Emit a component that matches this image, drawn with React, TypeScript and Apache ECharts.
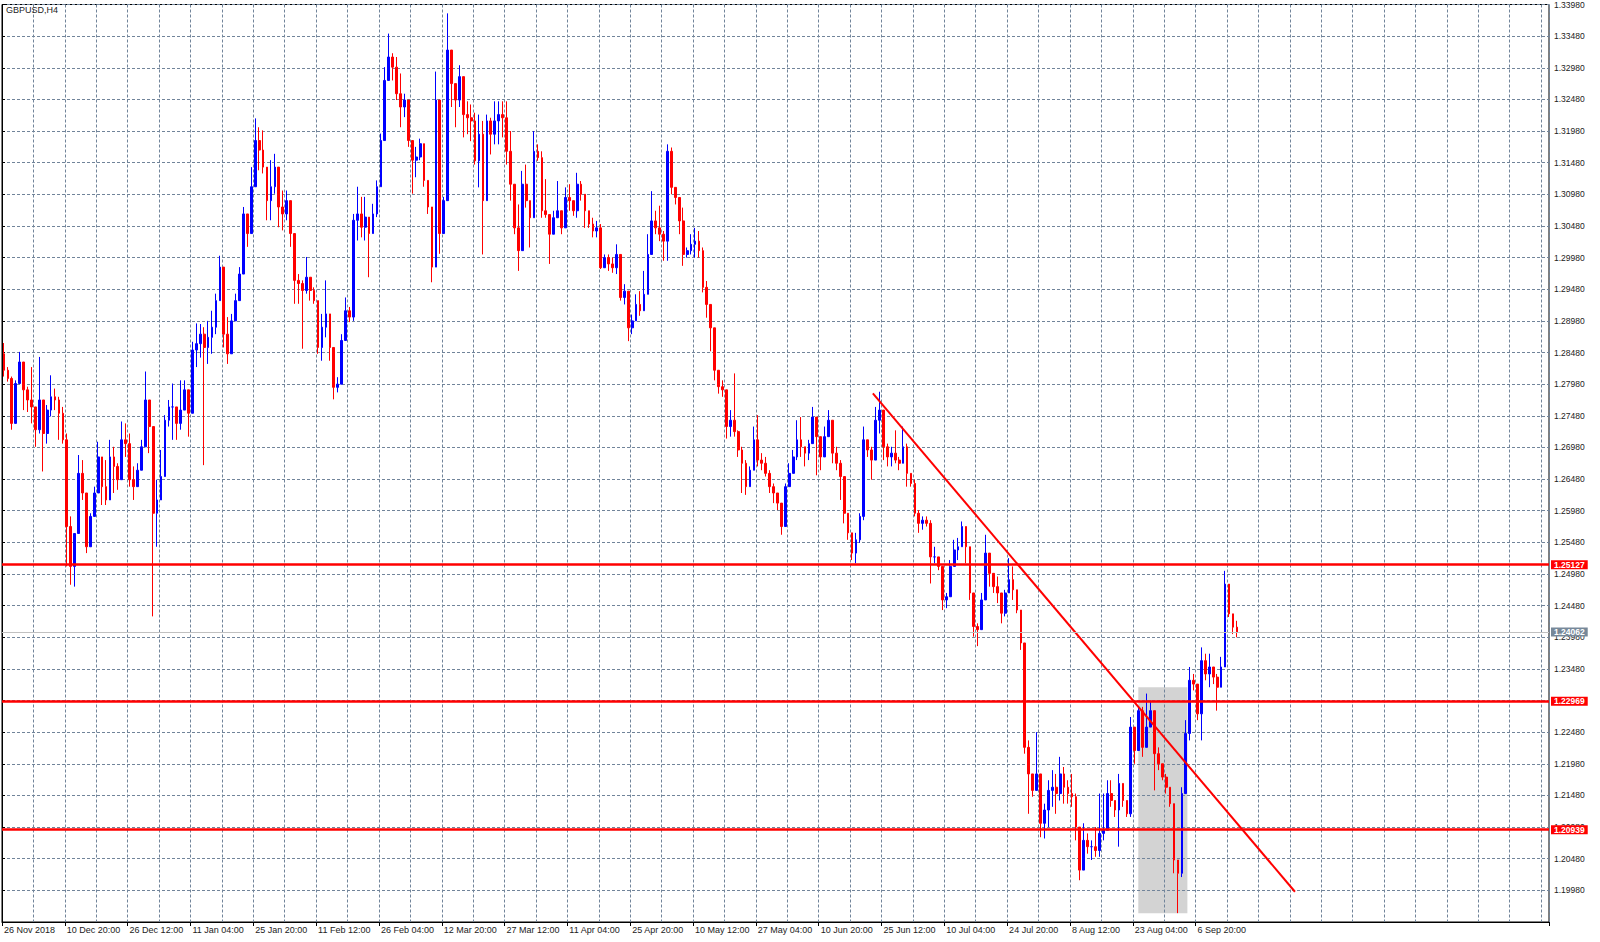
import React, { useEffect, useRef } from "react";
import * as echarts from "echarts";

const SYMBOL = "GBPUSD,H4";

const timeLabels = [
  "26 Nov 2018", "10 Dec 20:00", "26 Dec 12:00", "11 Jan 04:00", "25 Jan 20:00",
  "11 Feb 12:00", "26 Feb 04:00", "12 Mar 20:00", "27 Mar 12:00", "11 Apr 04:00",
  "25 Apr 20:00", "10 May 12:00", "27 May 04:00", "10 Jun 20:00", "25 Jun 12:00",
  "10 Jul 04:00", "24 Jul 20:00", "8 Aug 12:00", "23 Aug 04:00", "6 Sep 20:00",
];

// each candle: [close, high, low]; open = previous close
const firstOpen = 1.2846;

const decToJan = [
  [1.2820, 1.2863, 1.2810], [1.2807, 1.2825, 1.2802], [1.2736, 1.2810, 1.2726], [1.2799, 1.2804, 1.2736],
  [1.2833, 1.2849, 1.2799], [1.2789, 1.2825, 1.2757], [1.2773, 1.2794, 1.2754], [1.2762, 1.2825, 1.2736],
  [1.2726, 1.2757, 1.2699], [1.2773, 1.2841, 1.2720], [1.2720, 1.2773, 1.2660], [1.2757, 1.2765, 1.2704],
  [1.2778, 1.2812, 1.2747], [1.2773, 1.2791, 1.2757], [1.2752, 1.2778, 1.2710], [1.2710, 1.2762, 1.2704],
  [1.2573, 1.2720, 1.2510], [1.2510, 1.2589, 1.2481], [1.2562, 1.2562, 1.2478], [1.2657, 1.2686, 1.2594],
  [1.2626, 1.2678, 1.2615], [1.2541, 1.2615, 1.2531], [1.2589, 1.2594, 1.2562], [1.2626, 1.2636, 1.2594],
  [1.2683, 1.2707, 1.2626], [1.2636, 1.2668, 1.2607], [1.2615, 1.2678, 1.2607], [1.2683, 1.2710, 1.2615],
  [1.2668, 1.2699, 1.2626], [1.2647, 1.2673, 1.2631], [1.2710, 1.2739, 1.2689], [1.2704, 1.2736, 1.2683],
  [1.2647, 1.2720, 1.2636], [1.2636, 1.2668, 1.2615], [1.2662, 1.2673, 1.2636], [1.2699, 1.2710, 1.2673],
  [1.2773, 1.2818, 1.2720], [1.2731, 1.2773, 1.2689], [1.2594, 1.2631, 1.2431], [1.2615, 1.2647, 1.2541],
  [1.2652, 1.2694, 1.2615], [1.2741, 1.2749, 1.2710], [1.2762, 1.2773, 1.2731], [1.2762, 1.2799, 1.2710],
  [1.2736, 1.2752, 1.2710], [1.2757, 1.2804, 1.2726], [1.2789, 1.2804, 1.2757], [1.2752, 1.2773, 1.2715],
  [1.2852, 1.2865, 1.2757], [1.2862, 1.2894, 1.2825],
];

const janToMar = [
  [1.2877, 1.2893, 1.2840], [1.2856, 1.2888, 1.2670], [1.2872, 1.2898, 1.2830], [1.2888, 1.2914, 1.2846],
  [1.2930, 1.2941, 1.2877], [1.2983, 1.3001, 1.2930], [1.2877, 1.2983, 1.2856], [1.2846, 1.2904, 1.2830],
  [1.2898, 1.2909, 1.2877], [1.2930, 1.2941, 1.2909], [1.2972, 1.2983, 1.2941], [1.3067, 1.3078, 1.2999],
  [1.3036, 1.3062, 1.3015], [1.3110, 1.3141, 1.3046], [1.3183, 1.3218, 1.3141], [1.3168, 1.3204, 1.3136],
  [1.3141, 1.3199, 1.3131], [1.3088, 1.3120, 1.3057], [1.3110, 1.3152, 1.3057], [1.3141, 1.3162, 1.3099],
  [1.3078, 1.3120, 1.3046], [1.3067, 1.3104, 1.3041], [1.3088, 1.3104, 1.3057], [1.3036, 1.3051, 1.3015],
  [1.2962, 1.2993, 1.2925], [1.2957, 1.2972, 1.2925], [1.2946, 1.2962, 1.2854], [1.2967, 1.2999, 1.2941],
  [1.2946, 1.2967, 1.2930], [1.2930, 1.2951, 1.2925], [1.2856, 1.2898, 1.2846], [1.2888, 1.2909, 1.2835],
  [1.2909, 1.2962, 1.2872], [1.2856, 1.2877, 1.2835], [1.2793, 1.2825, 1.2774], [1.2798, 1.2809, 1.2785],
  [1.2867, 1.2877, 1.2798], [1.2914, 1.2935, 1.2877], [1.2904, 1.2920, 1.2896], [1.3057, 1.3067, 1.2898],
  [1.3067, 1.3110, 1.3025], [1.3046, 1.3094, 1.3030], [1.3062, 1.3094, 1.3025], [1.3036, 1.3046, 1.2967],
  [1.3067, 1.3083, 1.3041], [1.3110, 1.3120, 1.3062], [1.3183, 1.3194, 1.3110], [1.3278, 1.3299, 1.3236],
  [1.3315, 1.3352, 1.3284], [1.3299, 1.3321, 1.3278], [1.3257, 1.3315, 1.3247], [1.3236, 1.3289, 1.3204],
  [1.3247, 1.3257, 1.3220], [1.3183, 1.3210, 1.3173], [1.3152, 1.3183, 1.3099], [1.3157, 1.3173, 1.3125],
  [1.3178, 1.3186, 1.3152], [1.3120, 1.3173, 1.3110], [1.3078, 1.3107, 1.3067], [1.2983, 1.3067, 1.2959],
  [1.3247, 1.3292, 1.2983], [1.3036, 1.3231, 1.3004], [1.3088, 1.3094, 1.3046], [1.3326, 1.3384, 1.3088],
  [1.3273, 1.3326, 1.3236], [1.3247, 1.3273, 1.3204], [1.3284, 1.3302, 1.3236],
];

const marToMay = [
  [1.3224, 1.3240, 1.3188], [1.3219, 1.3245, 1.3193], [1.3214, 1.3240, 1.3182], [1.3151, 1.3227, 1.3145],
  [1.3193, 1.3224, 1.3109], [1.3088, 1.3214, 1.3003], [1.3214, 1.3224, 1.3098], [1.3193, 1.3219, 1.3161],
  [1.3214, 1.3245, 1.3177], [1.3224, 1.3245, 1.3177], [1.3219, 1.3245, 1.3188], [1.3166, 1.3245, 1.3145],
  [1.3114, 1.3198, 1.3088], [1.3045, 1.3109, 1.3035], [1.3009, 1.3082, 1.2977], [1.3114, 1.3135, 1.3014],
  [1.3088, 1.3145, 1.3077], [1.3061, 1.3088, 1.3014], [1.3166, 1.3198, 1.3066], [1.3156, 1.3177, 1.3151],
  [1.3072, 1.3166, 1.3061], [1.3066, 1.3122, 1.3061], [1.3035, 1.3056, 1.2988], [1.3061, 1.3072, 1.3035],
  [1.3072, 1.3119, 1.3061], [1.3045, 1.3066, 1.3035], [1.3093, 1.3109, 1.3066], [1.3088, 1.3114, 1.3072],
  [1.3072, 1.3082, 1.3064], [1.3114, 1.3132, 1.3061], [1.3098, 1.3119, 1.3088], [1.3072, 1.3093, 1.3045],
  [1.3051, 1.3066, 1.3045], [1.3040, 1.3061, 1.3030], [1.3045, 1.3056, 1.3030], [1.2982, 1.3051, 1.2980],
  [1.2998, 1.3003, 1.2982], [1.2988, 1.3003, 1.2977], [1.2982, 1.2998, 1.2974], [1.3003, 1.3019, 1.2972],
  [1.2935, 1.2961, 1.2930], [1.2945, 1.2956, 1.2924], [1.2887, 1.2919, 1.2866], [1.2898, 1.2908, 1.2877],
  [1.2924, 1.2940, 1.2903], [1.2914, 1.2945, 1.2906], [1.2940, 1.2977, 1.2930], [1.3003, 1.3035, 1.2977],
  [1.3056, 1.3103, 1.3035], [1.3045, 1.3072, 1.3035], [1.3035, 1.3080, 1.3024], [1.3024, 1.3040, 1.2993],
  [1.3166, 1.3177, 1.2993], [1.3109, 1.3172, 1.3098], [1.3093, 1.3109, 1.3082], [1.3056, 1.3080, 1.3035],
  [1.3003, 1.3077, 1.2985], [1.3009, 1.3014, 1.2998], [1.3019, 1.3035, 1.3003], [1.3024, 1.3045, 1.2998],
  [1.3009, 1.3040, 1.2998], [1.2951, 1.3014, 1.2943], [1.2924, 1.2961, 1.2903], [1.2887, 1.2919, 1.2850],
];

const mayToJul = [
  [1.2820, 1.2836, 1.2804], [1.2794, 1.2815, 1.2783], [1.2789, 1.2804, 1.2778], [1.2731, 1.2783, 1.2712],
  [1.2741, 1.2757, 1.2715], [1.2723, 1.2815, 1.2715], [1.2694, 1.2725, 1.2683], [1.2673, 1.2699, 1.2626],
  [1.2636, 1.2678, 1.2623], [1.2662, 1.2668, 1.2652], [1.2710, 1.2731, 1.2678], [1.2678, 1.2749, 1.2668],
  [1.2673, 1.2689, 1.2662], [1.2657, 1.2683, 1.2652], [1.2636, 1.2662, 1.2626], [1.2626, 1.2641, 1.2610],
  [1.2610, 1.2626, 1.2599], [1.2573, 1.2610, 1.2560], [1.2636, 1.2641, 1.2610], [1.2657, 1.2673, 1.2636],
  [1.2683, 1.2694, 1.2662], [1.2710, 1.2741, 1.2678], [1.2699, 1.2746, 1.2683], [1.2689, 1.2699, 1.2668],
  [1.2704, 1.2710, 1.2678], [1.2746, 1.2762, 1.2731], [1.2715, 1.2731, 1.2654], [1.2683, 1.2697, 1.2662],
  [1.2715, 1.2731, 1.2683], [1.2741, 1.2757, 1.2720], [1.2689, 1.2710, 1.2673], [1.2673, 1.2699, 1.2662],
  [1.2652, 1.2678, 1.2615], [1.2594, 1.2615, 1.2578], [1.2563, 1.2594, 1.2552], [1.2531, 1.2563, 1.2520],
  [1.2552, 1.2563, 1.2515], [1.2589, 1.2594, 1.2547], [1.2710, 1.2731, 1.2583], [1.2694, 1.2710, 1.2683],
  [1.2678, 1.2699, 1.2647], [1.2741, 1.2762, 1.2720], [1.2757, 1.2786, 1.2720], [1.2699, 1.2741, 1.2678],
  [1.2683, 1.2704, 1.2668], [1.2689, 1.2699, 1.2668], [1.2678, 1.2725, 1.2673], [1.2673, 1.2683, 1.2662],
  [1.2699, 1.2731, 1.2673], [1.2657, 1.2704, 1.2636], [1.2641, 1.2652, 1.2636], [1.2594, 1.2647, 1.2589],
  [1.2578, 1.2599, 1.2563], [1.2583, 1.2589, 1.2568], [1.2578, 1.2589, 1.2573], [1.2525, 1.2583, 1.2483],
  [1.2525, 1.2541, 1.2515], [1.2510, 1.2525, 1.2504], [1.2457, 1.2510, 1.2441], [1.2462, 1.2468, 1.2444],
  [1.2510, 1.2520, 1.2489], [1.2536, 1.2552, 1.2520], [1.2541, 1.2555, 1.2520], [1.2573, 1.2581, 1.2552],
  [1.2541, 1.2573, 1.2515], [1.2468, 1.2520, 1.2457], [1.2415, 1.2431, 1.2399], [1.2410, 1.2420, 1.2384],
  [1.2457, 1.2468, 1.2415], [1.2531, 1.2560, 1.2499], [1.2499, 1.2520, 1.2478], [1.2478, 1.2499, 1.2468],
  [1.2468, 1.2494, 1.2452], [1.2436, 1.2468, 1.2420], [1.2468, 1.2473, 1.2431], [1.2489, 1.2523, 1.2473],
  [1.2473, 1.2510, 1.2457], [1.2441, 1.2452, 1.2436], [1.2389, 1.2436, 1.2378],
];

const julToSep = [
  [1.2224, 1.2319, 1.2214], [1.2182, 1.2235, 1.2119], [1.2156, 1.2182, 1.2146], [1.2182, 1.2248, 1.2172],
  [1.2104, 1.2140, 1.2082], [1.2125, 1.2135, 1.2080], [1.2156, 1.2172, 1.2098], [1.2161, 1.2188, 1.2130],
  [1.2151, 1.2182, 1.2119], [1.2182, 1.2209, 1.2140], [1.2161, 1.2193, 1.2135], [1.2151, 1.2172, 1.2135],
  [1.2146, 1.2182, 1.2130], [1.2098, 1.2151, 1.2077], [1.2030, 1.2056, 1.2014], [1.2077, 1.2104, 1.2046],
  [1.2067, 1.2088, 1.2056], [1.2067, 1.2077, 1.2046], [1.2061, 1.2098, 1.2051], [1.2088, 1.2151, 1.2051],
  [1.2093, 1.2151, 1.2077], [1.2151, 1.2172, 1.2135], [1.2140, 1.2172, 1.2130], [1.2125, 1.2140, 1.2114],
  [1.2167, 1.2182, 1.2067], [1.2140, 1.2161, 1.2130], [1.2119, 1.2140, 1.2114], [1.2256, 1.2272, 1.2114],
  [1.2219, 1.2256, 1.2198], [1.2282, 1.2288, 1.2261], [1.2224, 1.2288, 1.2209], [1.2256, 1.2309, 1.2240],
  [1.2282, 1.2298, 1.2272], [1.2214, 1.2246, 1.2156], [1.2198, 1.2224, 1.2188], [1.2177, 1.2198, 1.2172],
  [1.2161, 1.2182, 1.2151], [1.2135, 1.2161, 1.2130], [1.2046, 1.2093, 1.2025], [1.2025, 1.2046, 1.1962],
  [1.2151, 1.2161, 1.2019], [1.2246, 1.2267, 1.2151], [1.2330, 1.2351, 1.2235], [1.2324, 1.2340, 1.2314],
  [1.2277, 1.2319, 1.2267], [1.2361, 1.2382, 1.2235], [1.2340, 1.2372, 1.2330], [1.2351, 1.2372, 1.2319],
  [1.2335, 1.2351, 1.2324], [1.2319, 1.2340, 1.2282], [1.2351, 1.2367, 1.2324], [1.2482, 1.2503, 1.2351],
  [1.2435, 1.2482, 1.2430], [1.2414, 1.2435, 1.2403], [1.24062, 1.2424, 1.2398],
];

const levelLines = [1.25127, 1.22969, 1.20939];
const bidPrice = 1.24062;
// trend line and highlight box in [bar-slot, price] coordinates
const trendLine = [[221.8, 1.27835], [329.3, 1.19958]];
const highlightBox = [[289.4, 1.23191], [301.9, 1.19617]];

const SLOTS = 394;
const LABEL_EVERY = 16;
const GRID_EVERY = 8;
const Y_MIN = 1.1948;
const Y_MAX = 1.3398;
const Y_STEP = 0.005;

const FONT = "Liberation Sans";
const GRID_COLOR = "#71849a";

function buildCandles() {
  const rows = [...decToJan, ...janToMar, ...marToMay, ...mayToJul, ...julToSep];
  let open = firstOpen;
  return rows.map(([c, h, l]) => {
    const o = open;
    open = c;
    return [o, c, Math.min(l, o, c), Math.max(h, o, c)];
  });
}

function priceTag(value: number, bg: string) {
  return {
    show: true,
    position: "end",
    distance: 2,
    formatter: value.toFixed(5),
    backgroundColor: bg,
    color: "#ffffff",
    fontFamily: FONT,
    fontSize: 8.5,
    fontWeight: "bold",
    lineHeight: 9,
    padding: [0, 3, 0, 3],
  };
}

export default function App() {
  const ref = useRef<HTMLDivElement>(null);

  useEffect(() => {
    if (!ref.current) return;
    const chart = echarts.init(ref.current, undefined, { renderer: "svg" });
    const candles = buildCandles();
    const categories = Array.from({ length: SLOTS }, (_, i) => String(i));
    const labelIdx = (i: number) => i % LABEL_EVERY === 0 && i / LABEL_EVERY < timeLabels.length;

    const levelData: any[] = levelLines.map((v) => ({
      yAxis: v,
      lineStyle: { color: "#ff0000", width: 2.5, type: "solid" },
      label: priceTag(v, "#ff0000"),
    }));
    levelData.push({
      yAxis: bidPrice,
      lineStyle: { color: "#c0c0c0", width: 1, type: "solid" },
      label: priceTag(bidPrice, "#778899"),
    });

    chart.setOption({
      animation: false,
      backgroundColor: "#ffffff",
      textStyle: { fontFamily: FONT },
      title: {
        text: SYMBOL,
        left: 6,
        top: 5,
        padding: 0,
        textStyle: { fontSize: 9, fontWeight: "normal", color: "#222", fontFamily: FONT },
      },
      grid: {
        left: 2,
        right: 51,
        top: 2.7,
        bottom: 20,
        show: true,
        borderColor: "#000",
        borderWidth: 1,
        backgroundColor: "#fff",
        containLabel: false,
      },
      xAxis: [
        {
          type: "category",
          data: categories,
          boundaryGap: true,
          z: 1,
          axisLine: { show: true, lineStyle: { color: "#000", width: 1 } },
          axisTick: { show: true, interval: labelIdx, length: 4, lineStyle: { color: "#000" } },
          axisLabel: {
            show: true,
            interval: labelIdx,
            formatter: (_v: string, i: number) => timeLabels[i / LABEL_EVERY] ?? "",
            align: "left",
            margin: 3,
            fontSize: 9,
            color: "#222",
            fontFamily: FONT,
            hideOverlap: false,
          },
          splitLine: {
            show: true,
            interval: (i: number) => i % GRID_EVERY === 0,
            lineStyle: { color: GRID_COLOR, type: [3, 2], width: 1 },
          },
        },
        {
          type: "value",
          min: 0,
          max: SLOTS,
          show: false,
          splitLine: { show: false },
        },
      ],
      yAxis: {
        type: "value",
        position: "right",
        min: Y_MIN,
        max: Y_MAX,
        interval: Y_STEP,
        scale: true,
        z: 1,
        axisLine: { show: true, lineStyle: { color: "#000", width: 1 } },
        axisTick: { show: true, length: 3, lineStyle: { color: "#000" } },
        axisLabel: {
          show: true,
          showMinLabel: false,
          margin: 5,
          fontSize: 8.5,
          color: "#222",
          fontFamily: FONT,
          formatter: (v: number) => v.toFixed(5),
        },
        splitLine: { show: true, lineStyle: { color: GRID_COLOR, type: [3, 2], width: 1 } },
      },
      series: [
        {
          type: "candlestick",
          xAxisIndex: 0,
          yAxisIndex: 0,
          data: candles,
          barWidth: 2.2,
          z: 2,
          itemStyle: {
            color: "#0000ff",
            color0: "#ff0000",
            borderColor: "#0000ff",
            borderColor0: "#ff0000",
            borderWidth: 1,
          },
          markLine: {
            silent: true,
            precision: 5,
            symbol: ["none", "none"],
            z: 5,
            data: levelData,
          },
        },
        {
          type: "line",
          xAxisIndex: 1,
          yAxisIndex: 0,
          data: trendLine,
          symbol: "none",
          z: 3,
          lineStyle: { color: "#ff0000", width: 2 },
          markArea: {
            silent: true,
            z: 0.5,
            itemStyle: { color: "#d3d3d3" },
            data: [[{ coord: highlightBox[0] }, { coord: highlightBox[1] }]],
          },
        },
      ],
    });

    return () => chart.dispose();
  }, []);

  return (
    <div
      ref={ref}
      style={{ position: "fixed", left: 0, top: 0, width: 1600, height: 942, background: "#fff" }}
    />
  );
}
